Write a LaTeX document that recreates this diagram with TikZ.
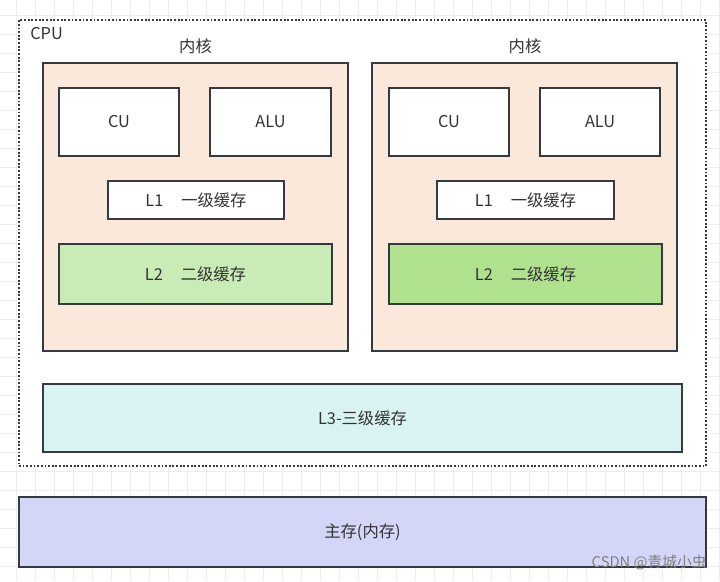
\documentclass[tikz,border=0pt]{standalone}
\usepackage{fontspec}
\setmainfont{Noto Sans CJK SC}
\usetikzlibrary{positioning}

\definecolor{peach}{HTML}{FAE8DA}
\definecolor{lgreen}{HTML}{C9EBB5}
\definecolor{mgreen}{HTML}{AFE18F}
\definecolor{lcyan}{HTML}{D9F3F3}
\definecolor{lviolet}{HTML}{D3D6F7}
\definecolor{edge}{HTML}{36393D}
\definecolor{txt}{HTML}{333333}

\tikzset{
  gridline/.style={draw=black!7,line width=0.6pt},
  unitbox/.style={draw=edge,line width=1pt,fill=white,text=txt,font=\fontsize{11.6}{14}\selectfont},
  corebox/.style={unitbox,fill=peach},
  cpubox/.style={draw=edge,line width=1.3pt,dash pattern=on 1.3pt off 1.3pt,fill=white},
  lbl/.style={text=txt,font=\fontsize{11.6}{14}\selectfont,inner sep=0pt},
}

\begin{document}
\begin{tikzpicture}[x=0.025cm,y=-0.025cm]
\useasboundingbox (0,0) rectangle (720,581);
\fill[white] (0,0) rectangle (720,581);

% background grid
\foreach \gx in {0,...,38} \draw[gridline] ({-2.3+19*\gx},0) -- ++(0,581);
\foreach \gy in {0,...,31} \draw[gridline] (0,{34.7+19*(\gy-2)}) -- ++(720,0);

% CPU
\node[cpubox,minimum width=17.175cm,minimum height=11.15cm] (cpu) at (362.5,243) {};
\node[lbl,anchor=west] (cpulabel) at (30,34) {CPU};

% core 1
\node[corebox,minimum width=7.625cm,minimum height=7.2cm] (core1) at (195.5,207) {};
\node[lbl] (core1label) at (195.5,46) {内核};
\node[unitbox,minimum width=3cm,minimum height=1.7cm] (cu1) at (119,122) {CU};
\node[unitbox,minimum width=3.025cm,minimum height=1.7cm] (alu1) at (270.5,122) {ALU};
\node[unitbox,minimum width=4.4cm,minimum height=0.95cm] (l1a) at (196,200) {L1\hspace{1.1em}一级缓存};
\node[unitbox,fill=lgreen,minimum width=6.825cm,minimum height=1.5cm] (l2a) at (195.5,274) {L2\hspace{1.1em}二级缓存};

% core 2
\node[corebox,minimum width=7.625cm,minimum height=7.2cm] (core2) at (524.5,207) {};
\node[lbl] (core2label) at (525,46) {内核};
\node[unitbox,minimum width=3cm,minimum height=1.7cm] (cu2) at (449,122) {CU};
\node[unitbox,minimum width=3cm,minimum height=1.7cm] (alu2) at (600,122) {ALU};
\node[unitbox,minimum width=4.425cm,minimum height=0.95cm] (l1b) at (525.5,200) {L1\hspace{1.1em}一级缓存};
\node[unitbox,fill=mgreen,minimum width=6.825cm,minimum height=1.5cm] (l2b) at (525.5,274) {L2\hspace{1.1em}二级缓存};

% L3 and memory
\node[unitbox,fill=lcyan,minimum width=15.975cm,minimum height=1.7cm] (l3) at (362.5,418) {L3-三级缓存};
\node[unitbox,fill=lviolet,minimum width=17.175cm,minimum height=1.75cm] (mem) at (362.5,532) {主存(内存)};

\node[lbl,text=black!50,anchor=east,font=\fontsize{10.5}{12}\selectfont] (mark) at (707,563) {CSDN @青城小虫};
\end{tikzpicture}
\end{document}
